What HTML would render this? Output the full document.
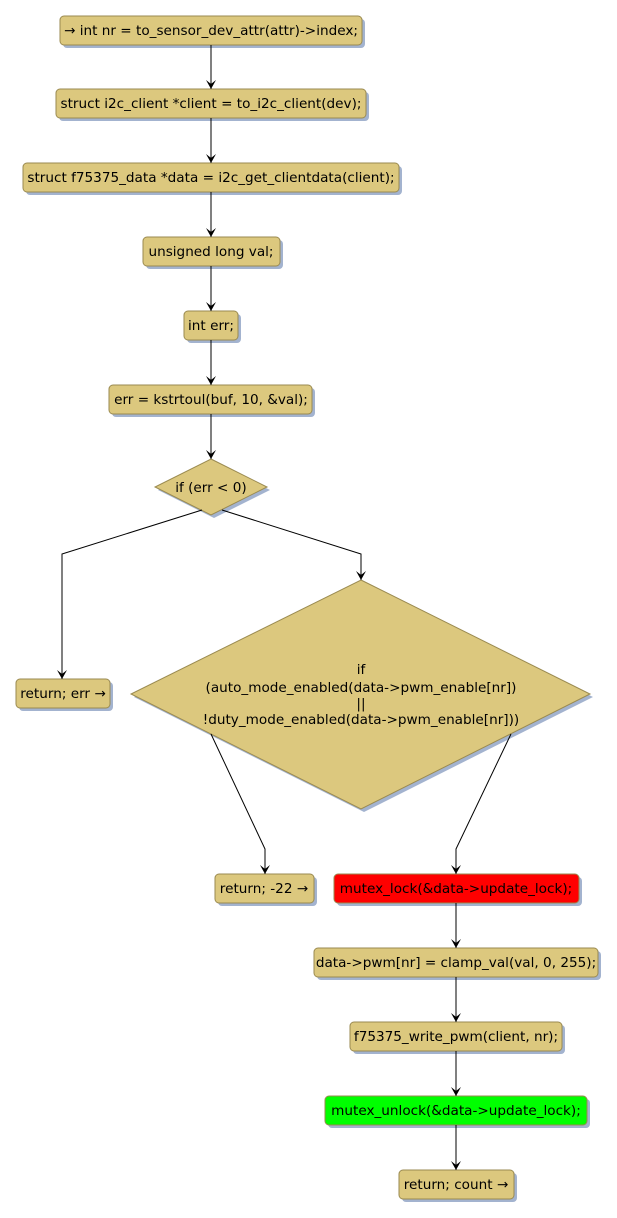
<!DOCTYPE html>
<html><head><style>body{margin:0;background:#fff}svg{display:block}text{font-family:"DejaVu Sans","Liberation Sans",sans-serif;font-size:13.6px;fill:#000;text-anchor:middle}</style></head><body>
<svg width="617" height="1218" viewBox="0 0 617 1218">
<defs><marker id="a" markerWidth="10" markerHeight="10" refX="9" refY="5" orient="auto" markerUnits="userSpaceOnUse"><path d="M0,0 L9,5 L0,10 L4,5 Z" fill="#000"/></marker></defs>
<g fill="#a3b3cf">
<rect x="63" y="19" width="302" height="29" rx="4"/>
<rect x="59" y="92" width="310" height="29" rx="4"/>
<rect x="26" y="166" width="376" height="29" rx="4"/>
<rect x="146" y="240" width="137" height="29" rx="4"/>
<rect x="187" y="314" width="54" height="29" rx="4"/>
<rect x="112" y="388" width="203" height="29" rx="4"/>
<polygon points="214,462 270,490 214,518 158,490"/>
<rect x="19" y="682" width="94" height="29" rx="4"/>
<polygon points="364,583 593,697 364,812 134,697"/>
<rect x="218" y="877" width="99" height="29" rx="4"/>
<rect x="337" y="877" width="245" height="29" rx="4"/>
<rect x="317" y="951" width="284" height="29" rx="4"/>
<rect x="353" y="1025" width="212" height="29" rx="4"/>
<rect x="328" y="1099" width="262" height="29" rx="4"/>
<rect x="402" y="1173" width="115" height="29" rx="4"/>
</g>
<g fill="#dcc87e" stroke="#9a8a50" stroke-width="1">
<rect x="60" y="16" width="302" height="29" rx="4"/>
<rect x="56" y="89" width="310" height="29" rx="4"/>
<rect x="23" y="163" width="376" height="29" rx="4"/>
<rect x="143" y="237" width="137" height="29" rx="4"/>
<rect x="184" y="311" width="54" height="29" rx="4"/>
<rect x="109" y="385" width="203" height="29" rx="4"/>
<polygon points="211,459 267,487 211,515 155,487"/>
<rect x="16" y="679" width="94" height="29" rx="4"/>
<polygon points="361,580 590,694 361,809 131,694"/>
<rect x="215" y="874" width="99" height="29" rx="4"/>
<rect x="334" y="874" width="245" height="29" rx="4" fill="#ff0000"/>
<rect x="314" y="948" width="284" height="29" rx="4"/>
<rect x="350" y="1022" width="212" height="29" rx="4"/>
<rect x="325" y="1096" width="262" height="29" rx="4" fill="#00ff00"/>
<rect x="399" y="1170" width="115" height="29" rx="4"/>
</g>
<g stroke="#000" stroke-width="1" fill="none" marker-end="url(#a)">
<path d="M211,45 V89"/>
<path d="M211,118 V163"/>
<path d="M211,192 V237"/>
<path d="M211,266 V311"/>
<path d="M211,340 V385"/>
<path d="M211,414 V459"/>
<path d="M202,510 L62,554 V679"/>
<path d="M222,510 L361,554 V580"/>
<path d="M211,734 L265,849 V874"/>
<path d="M511,734 L456,849 V874"/>
<path d="M456,903 V948"/>
<path d="M456,977 V1022"/>
<path d="M456,1051 V1096"/>
<path d="M456,1125 V1170"/>
</g>
<text x="211" y="35">→ int nr = to_sensor_dev_attr(attr)-&gt;index;</text>
<text x="211" y="108">struct i2c_client *client = to_i2c_client(dev);</text>
<text x="211" y="182">struct f75375_data *data = i2c_get_clientdata(client);</text>
<text x="211" y="256">unsigned long val;</text>
<text x="211" y="330">int err;</text>
<text x="211" y="404">err = kstrtoul(buf, 10, &amp;val);</text>
<text x="211" y="492">if (err &lt; 0)</text>
<text x="63" y="698">return; err →</text>
<text x="361" y="674">if</text>
<text x="361" y="692">(auto_mode_enabled(data-&gt;pwm_enable[nr])</text>
<text x="361" y="708">||</text>
<text x="361" y="724">!duty_mode_enabled(data-&gt;pwm_enable[nr]))</text>
<text x="264" y="893">return; -22 →</text>
<text x="456" y="893">mutex_lock(&amp;data-&gt;update_lock);</text>
<text x="456" y="967">data-&gt;pwm[nr] = clamp_val(val, 0, 255);</text>
<text x="456" y="1041">f75375_write_pwm(client, nr);</text>
<text x="456" y="1115">mutex_unlock(&amp;data-&gt;update_lock);</text>
<text x="456" y="1189">return; count →</text>
</svg>
</body></html>
